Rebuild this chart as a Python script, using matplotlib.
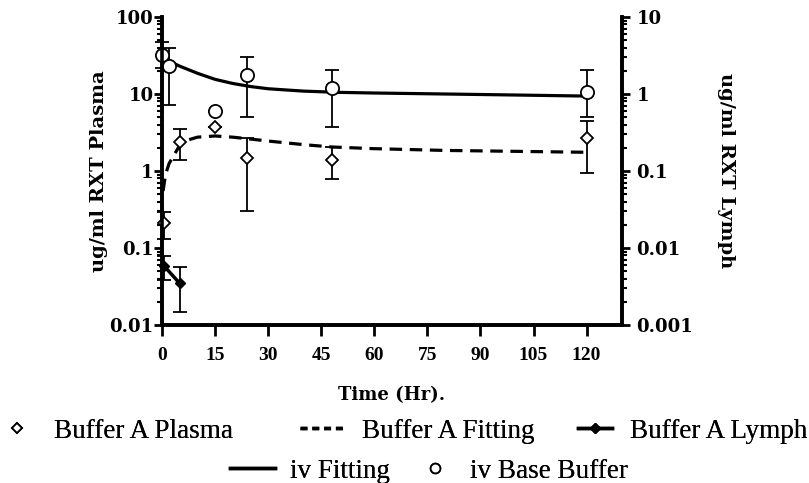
import numpy as np
import matplotlib
matplotlib.use("Agg")
import matplotlib.pyplot as plt
from matplotlib.lines import Line2D
from matplotlib.ticker import LogLocator, FixedLocator, NullFormatter

# ---------------- data ----------------
iv_t = [0, 2, 15, 24, 48, 120]
iv_y = [32, 23, 6.1, 17.7, 11.9, 10.7]
iv_lo = [22, 7.2, 6.1, 5.1, 3.7, 5.0]
iv_hi = [48, 39, 6.1, 30.5, 20.5, 20.5]

pl_t = [0.5, 5, 15, 24, 48, 120]
pl_y = [0.21, 2.4, 3.76, 1.46, 1.39, 2.71]
pl_lo = [0.13, 1.39, 3.76, 0.305, 0.78, 0.93]
pl_hi = [0.295, 3.5, 3.76, 2.66, 2.07, 4.5]

ly_t = [0.5, 5]
ly_y = [0.0059, 0.00347]
ly_lo = [0.0038, 0.00149]
ly_hi = [0.00787, 0.0057]

ivfit_t = [0, 2, 5, 10, 15, 20, 25, 30, 40, 50, 60, 80, 100, 120]
ivfit_y = [29.5, 26.7, 23.0, 18.6, 15.5, 13.7, 12.5, 11.7, 10.9, 10.5, 10.3, 10.0, 9.7, 9.4]

afit_t = [0.3, 1, 2, 3, 5, 7, 10, 15, 20, 25, 30, 40, 48, 60, 80, 100, 120]
afit_y = [0.55, 0.9, 1.25, 1.5, 2.15, 2.5, 2.75, 2.85, 2.75, 2.6, 2.45, 2.2, 2.05, 1.95, 1.85, 1.8, 1.75]

xticks = [0, 15, 30, 45, 60, 75, 90, 105, 120]
left_ticks = [0.01, 0.1, 1, 10, 100]
left_labels = ["0.01", "0.1", "1", "10", "100"]
right_ticks = [0.001, 0.01, 0.1, 1, 10]
right_labels = ["0.001", "0.01", "0.1", "1", "10"]

legend_names = ["Buffer A Plasma", "Buffer A Fitting", "Buffer A Lymph",
                "iv Fitting", "iv Base Buffer"]

# ---------------- figure ----------------
plt.rcParams['lines.scale_dashes'] = False
W, H = 809, 483
fig = plt.figure(figsize=(W / 100, H / 100), dpi=100)
L, R, T, B = 162 / W, 622 / W, 1 - 17 / H, 1 - 325 / H
ax = fig.add_axes([L, B, R - L, T - B])
ax2 = ax.twinx()

tick_font = dict(family="DejaVu Serif", weight="bold", size=13)
lab_font = dict(family="DejaVu Serif", weight="bold", size=14)

ax.set_xlim(0, 130)
ax.set_yscale("log")
ax.set_ylim(0.01, 100)
ax2.set_yscale("log")
ax2.set_ylim(0.001, 10)

# fits
ax.plot(ivfit_t, ivfit_y, color="black", lw=2.3, zorder=3)
ax.plot(afit_t, afit_y, color="black", lw=2.3, dashes=(9, 5.5), zorder=3)

def err(t, y, lo, hi, axis, **kw):
    yerr = [np.array(y) - np.array(lo), np.array(hi) - np.array(y)]
    axis.errorbar(t, y, yerr=yerr, ecolor="black", elinewidth=1.3, capsize=5,
                  capthick=1.3, clip_on=False, zorder=4, **kw)

err(iv_t, iv_y, iv_lo, iv_hi, ax, fmt="o", ms=9.5, mfc="white", mec="black", mew=1.3)
err(pl_t, pl_y, pl_lo, pl_hi, ax, fmt="D", ms=6.5, mfc="white", mec="black", mew=1.3)
err(ly_t, ly_y, ly_lo, ly_hi, ax2, fmt="-D", ms=5, color="black", lw=2.5, mfc="black", mec="black")

# spines & ticks
for a in (ax, ax2):
    for s in a.spines.values():
        s.set_linewidth(2.6)
ax.spines["top"].set_visible(False)
ax2.spines["top"].set_visible(False)

ax.xaxis.set_major_locator(FixedLocator(xticks))
ax.set_xticklabels([str(v) for v in xticks], family="Liberation Serif", weight="bold", size=14)
ax.tick_params(axis="x", direction="out", length=8, width=2, pad=8)

ax.yaxis.set_major_locator(FixedLocator(left_ticks))
ax.set_yticklabels(left_labels, **tick_font)
ax.yaxis.set_minor_locator(LogLocator(base=10, subs=np.arange(2, 10)))
ax.yaxis.set_minor_formatter(NullFormatter())
ax.tick_params(axis="y", which="major", direction="out", length=5.5, width=2, pad=0.5)
ax.tick_params(axis="y", which="minor", direction="out", length=3.5, width=1.5)

ax2.yaxis.set_major_locator(FixedLocator(right_ticks))
ax2.set_yticklabels(right_labels, **tick_font)
ax2.yaxis.set_minor_locator(LogLocator(base=10, subs=np.arange(2, 10)))
ax2.yaxis.set_minor_formatter(NullFormatter())
ax2.tick_params(axis="y", which="major", direction="out", length=5.5, width=2, pad=5)
ax2.tick_params(axis="y", which="minor", direction="out", length=3.5, width=1.5)

ax.set_xlabel("Time (Hr).", labelpad=16, **dict(family="DejaVu Serif", weight="bold", size=13))
ax.set_ylabel("ug/ml RXT Plasma", labelpad=1, **lab_font)
ax2.set_ylabel("ug/ml RXT Lymph", rotation=270, labelpad=30, **lab_font)

# legends (one entry each, placed like the reference)
leg_font = dict(family="Liberation Serif", size=19.5)
handles = [
    Line2D([], [], ls="none", marker="D", ms=5.5, mfc="white", mec="black", mew=1.3),
    Line2D([], [], color="black", lw=2.5, dashes=(5, 3.5)),
    Line2D([], [], color="black", lw=2.5, marker="D", ms=5, mfc="black", mec="black"),
    Line2D([], [], color="black", lw=2.5),
    Line2D([], [], ls="none", marker="o", ms=7, mfc="white", mec="black", mew=1.3),
]
# (handle start x px, row y px, handle length em, text pad em)
spots = [(-3, 431, 1.5, 0.6), (300, 431, 1.67, 0.63), (578, 431, 1.26, 0.67),
         (230, 471, 1.67, 0.55), (415, 471, 1.48, 0.55)]
for hnd, name, (x, y, hl, tp) in zip(handles, legend_names, spots):
    lg = fig.legend([hnd], [name], loc="center left", bbox_to_anchor=(x / W, 1 - y / H),
                    frameon=False, prop=leg_font, handlelength=hl, handletextpad=tp,
                    borderpad=0, borderaxespad=0)
    fig.add_artist(lg)

fig.savefig("out.png", dpi=100)
